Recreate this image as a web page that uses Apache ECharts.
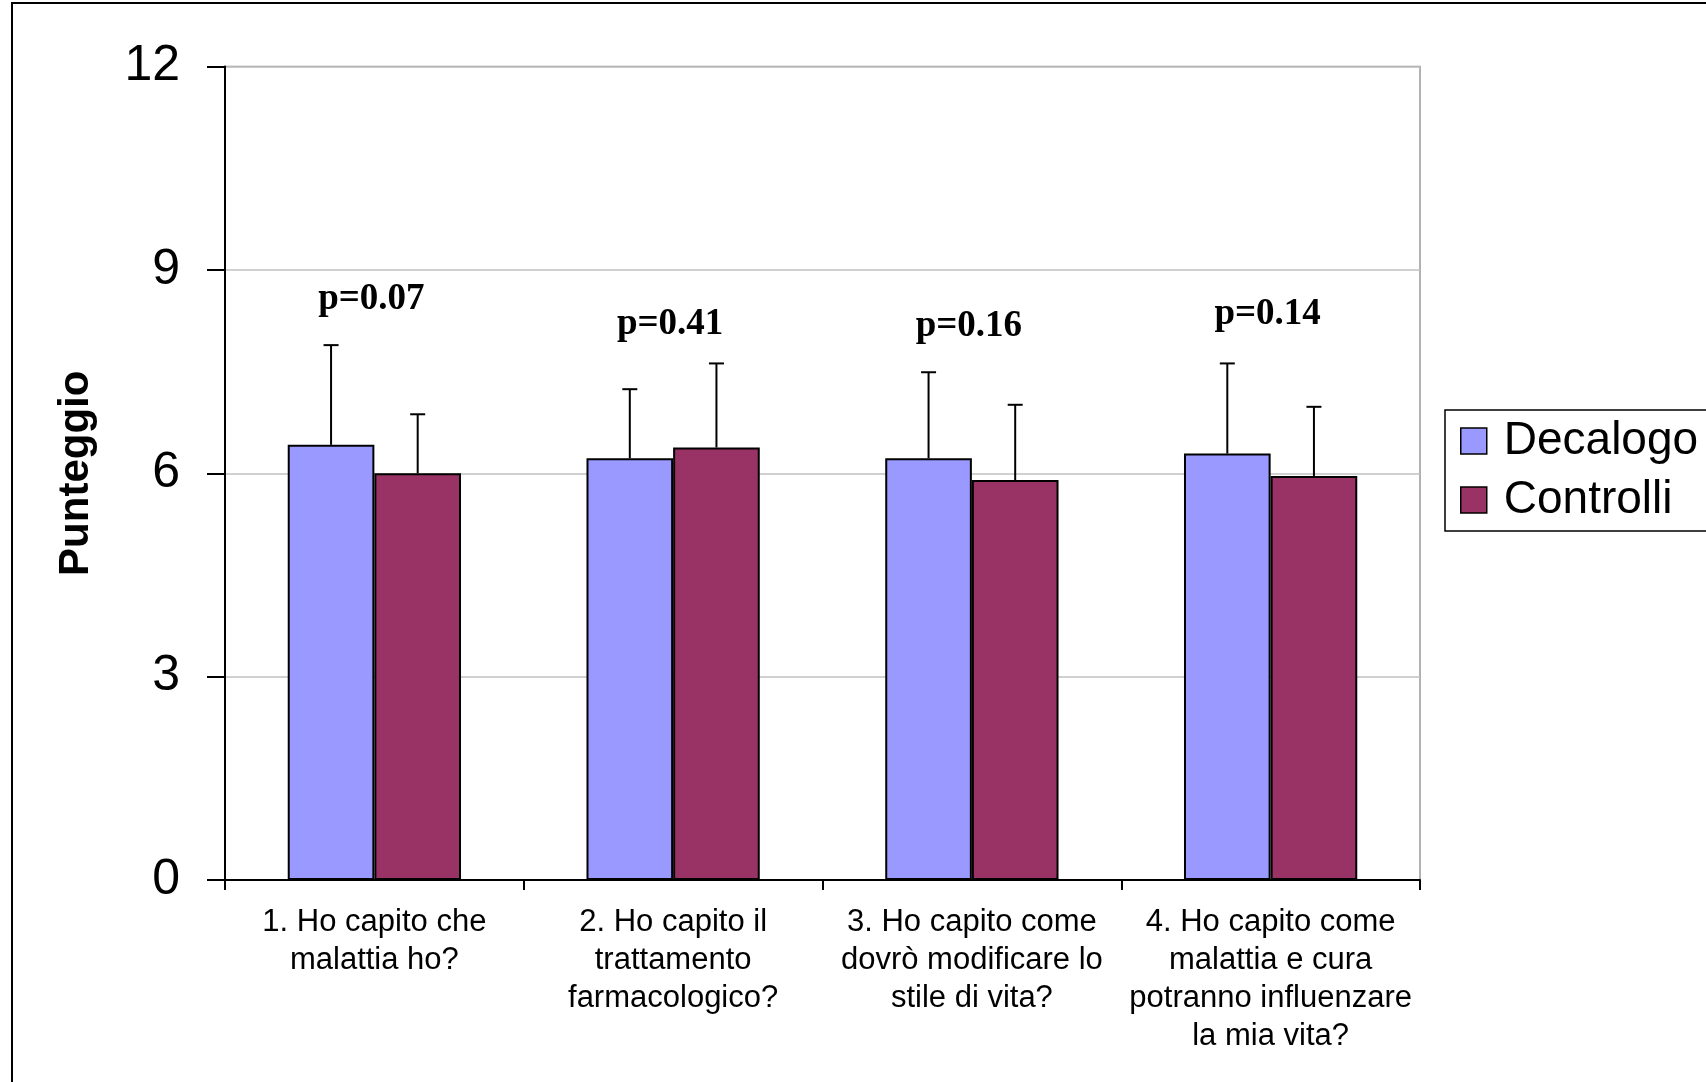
<!DOCTYPE html>
<html>
<head>
<meta charset="utf-8">
<script src="https://cdn.jsdelivr.net/npm/echarts@6/dist/echarts.min.js"></script>
<style>html,body{margin:0;padding:0;background:#fff;}#c{width:1706px;height:1082px;}</style>
</head>
<body>
<div id="c"></div>
<script>
const categories = [
  '1. Ho capito che\nmalattia ho?',
  '2. Ho capito il\ntrattamento\nfarmacologico?',
  '3. Ho capito come\ndovrò modificare lo\nstile di vita?',
  '4. Ho capito come\nmalattia e cura\npotranno influenzare\nla mia vita?'
];
const seriesNames = ['Decalogo', 'Controlli'];
const decalogo = [6.42, 6.22, 6.22, 6.29];
const controlli = [6.00, 6.38, 5.90, 5.96];
const decalogoSD = [1.47, 1.02, 1.27, 1.33];
const controlliSD = [0.87, 1.24, 1.11, 1.02];
const pValues = ['p=0.07', 'p=0.41', 'p=0.16', 'p=0.14'];
const pLevels = [8.57, 8.19, 8.17, 8.35];

const BAR_CAT_GAP = 0.42;

function errorSeries(name, means, sds, side) {
  return {
    type: 'custom',
    name: name + ' SD',
    z: 5,
    data: means.map((m, i) => [i, m, sds[i]]),
    renderItem: function (params, api) {
      const idx = api.value(0), mean = api.value(1), sd = api.value(2);
      const base = api.coord([idx, mean]);
      const top = api.coord([idx, mean + sd]);
      const band = api.size([1, 0])[0];
      const barW = band * (1 - BAR_CAT_GAP) / 2;
      const x = base[0] + side * barW / 2;
      const st = { stroke: '#000', lineWidth: 2 };
      return {
        type: 'group',
        children: [
          { type: 'line', shape: { x1: x, y1: base[1], x2: x, y2: top[1] }, style: st },
          { type: 'line', shape: { x1: x - 7.5, y1: top[1], x2: x + 7.5, y2: top[1] }, style: st }
        ]
      };
    }
  };
}

const chart = echarts.init(document.getElementById('c'));
chart.setOption({
  animation: false,
  backgroundColor: '#fff',
  graphic: [{
    type: 'rect', shape: { x: 12, y: 3, width: 1800, height: 1200 },
    style: { fill: 'none', stroke: '#000', lineWidth: 2 }, z: 100
  }],
  grid: { left: 225, right: 286, top: 66.5, bottom: 202, show: true, borderColor: '#999', borderWidth: 1.5, backgroundColor: 'transparent' },
  legend: {
    data: seriesNames,
    orient: 'vertical',
    left: 1445, top: 410,
    padding: [8, 10, 8, 15],
    itemWidth: 26, itemHeight: 26, itemGap: 13,
    borderColor: '#000', borderWidth: 1.5,
    icon: 'rect',
    itemStyle: { borderColor: '#000', borderWidth: 1.5 },
    textStyle: { fontFamily: 'Liberation Sans', fontSize: 46, color: '#000', padding: [0, 0, 0, 12] }
  },
  xAxis: {
    type: 'category',
    data: categories,
    axisLine: { lineStyle: { color: '#000', width: 2 } },
    axisTick: { show: true, length: 10, lineStyle: { color: '#000', width: 2 } },
    axisLabel: { interval: 0, margin: 23, fontFamily: 'Liberation Sans', fontSize: 31, lineHeight: 38, color: '#000' },
    splitLine: { show: false }
  },
  yAxis: {
    type: 'value',
    min: 0, max: 12, interval: 3,
    name: 'Punteggio',
    nameLocation: 'middle',
    nameGap: 128,
    nameTextStyle: { fontFamily: 'Liberation Sans', fontWeight: 'bold', fontSize: 42, color: '#000' },
    axisLine: { show: true, lineStyle: { color: '#000', width: 2 } },
    axisTick: { show: true, length: 18, lineStyle: { color: '#000', width: 2 } },
    axisLabel: { margin: 45, fontFamily: 'Liberation Sans', fontSize: 50, color: '#000' },
    splitLine: { show: true, lineStyle: { color: '#c0c0c0', width: 1.5 } }
  },
  series: [
    {
      name: seriesNames[0], type: 'bar', data: decalogo,
      barGap: '0%', barCategoryGap: (BAR_CAT_GAP * 100) + '%',
      itemStyle: { color: '#9999FF', borderColor: '#000', borderWidth: 2 }
    },
    {
      name: seriesNames[1], type: 'bar', data: controlli,
      barGap: '0%', barCategoryGap: (BAR_CAT_GAP * 100) + '%',
      itemStyle: { color: '#993366', borderColor: '#000', borderWidth: 2 }
    },
    errorSeries(seriesNames[0], decalogo, decalogoSD, -1),
    errorSeries(seriesNames[1], controlli, controlliSD, 1),
    {
      type: 'custom',
      name: 'p',
      z: 6,
      data: pValues.map((p, i) => [i, pLevels[i], p]),
      renderItem: function (params, api) {
        const pt = api.coord([api.value(0), api.value(1)]);
        return {
          type: 'text',
          x: pt[0] - 3, y: pt[1],
          style: {
            text: pValues[params.dataIndex],
            fontFamily: 'Liberation Serif', fontWeight: 'bold', fontSize: 37,
            fill: '#000', align: 'center', verticalAlign: 'middle'
          }
        };
      }
    }
  ]
});
</script>
</body>
</html>
